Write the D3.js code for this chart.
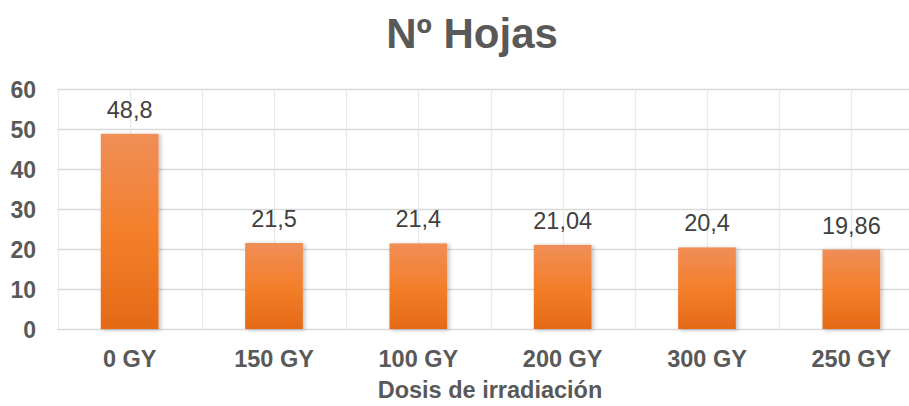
<!DOCTYPE html>
<html><head><meta charset="utf-8">
<script src="https://cdn.jsdelivr.net/npm/d3@7"></script>
<style>html,body{margin:0;padding:0;background:#fff;overflow:hidden}</style>
</head><body>
<svg id="c" width="909" height="406"></svg>
<script>
const categories = ["0 GY","150 GY","100 GY","200 GY","300 GY","250 GY"];
const values = [48.8, 21.5, 21.4, 21.04, 20.4, 19.86];
const valueLabels = ["48,8","21,5","21,4","21,04","20,4","19,86"];
const yTicks = [0,10,20,30,40,50,60];
const title = "Nº Hojas";
const xTitle = "Dosis de irradiación";

(function(){
const svg = d3.select("#c");
const font = "'Liberation Sans', Arial, sans-serif";
const pl = 57.5, pr = 923.5, pt = 89, pb = 329;

const x = d3.scaleBand().domain(categories).range([pl, pr]).paddingInner(0.6).paddingOuter(0.3);
const y = d3.scaleLinear().domain([0, 60]).range([pb, pt]);

const defs = svg.append("defs");
const g = defs.append("linearGradient").attr("id","bg").attr("x1",0).attr("y1",0).attr("x2",0).attr("y2",1);
g.append("stop").attr("offset","0%").attr("stop-color","#f08e58");
g.append("stop").attr("offset","50%").attr("stop-color","#f37f2b");
g.append("stop").attr("offset","100%").attr("stop-color","#e46a17");
const f = defs.append("filter").attr("id","sh").attr("x","-20%").attr("y","-20%").attr("width","150%").attr("height","150%");
f.append("feDropShadow").attr("dx",2).attr("dy",1).attr("stdDeviation",2).attr("flood-color","#000").attr("flood-opacity",0.25);

// horizontal gridlines
svg.append("g").selectAll("line").data(yTicks).join("line")
  .attr("x1", pl).attr("x2", pr)
  .attr("y1", d => Math.round(y(d))+0.5).attr("y2", d => Math.round(y(d))+0.5)
  .attr("stroke", "#d9d9d9").attr("stroke-width", 1.3);

// vertical gridlines at band boundaries and centers
const step = x.step();
const vx = [];
for (let i = 0; i <= categories.length * 2; i++) vx.push(pl + i * step / 2);
svg.append("g").selectAll("line").data(vx).join("line")
  .attr("x1", d => Math.round(d)+0.5).attr("x2", d => Math.round(d)+0.5)
  .attr("y1", pt).attr("y2", pb)
  .attr("stroke", "#e8e8e8").attr("stroke-width", 1.2);

// bars
svg.append("g").selectAll("rect").data(values).join("rect")
  .attr("x", (d,i) => x(categories[i]))
  .attr("width", x.bandwidth())
  .attr("y", d => y(d))
  .attr("height", d => y(0) - y(d))
  .attr("fill", "url(#bg)")
  .attr("filter", "url(#sh)");

// data labels
svg.append("g").selectAll("text").data(values).join("text")
  .attr("x", (d,i) => x(categories[i]) + x.bandwidth()/2)
  .attr("y", d => y(d) - 16)
  .attr("text-anchor", "middle")
  .attr("font-family", font).attr("font-size", 23.5)
  .attr("fill", "#404040")
  .text((d,i) => valueLabels[i]);

// y axis labels
const yAxis = d3.axisLeft(y).tickValues(yTicks).tickSize(0).tickPadding(0).tickFormat(d3.format("d"));
const ya = svg.append("g").attr("transform", "translate(36,0)").call(yAxis);
ya.select(".domain").remove();
ya.selectAll("text").attr("font-family", font).attr("font-size", 23).attr("font-weight", "bold")
  .attr("fill", "#595959").attr("dy", "0.36em");

// x axis labels
const xAxis = d3.axisBottom(x).tickSize(0).tickPadding(0);
const xa = svg.append("g").attr("transform", "translate(0,367)").call(xAxis);
xa.select(".domain").remove();
xa.selectAll("text").attr("font-family", font).attr("font-size", 23.5).attr("font-weight", "bold")
  .attr("fill", "#595959").attr("dy", 0);

// title
svg.append("text").attr("x", 472).attr("y", 48).attr("text-anchor", "middle")
  .attr("font-family", font).attr("font-size", 42).attr("font-weight", "bold")
  .attr("fill", "#595959").text(title);

// x axis title
svg.append("text").attr("x", 490).attr("y", 398).attr("text-anchor", "middle")
  .attr("font-family", font).attr("font-size", 23.5).attr("font-weight", "bold")
  .attr("fill", "#595959").text(xTitle);
})();
</script>
</body></html>
